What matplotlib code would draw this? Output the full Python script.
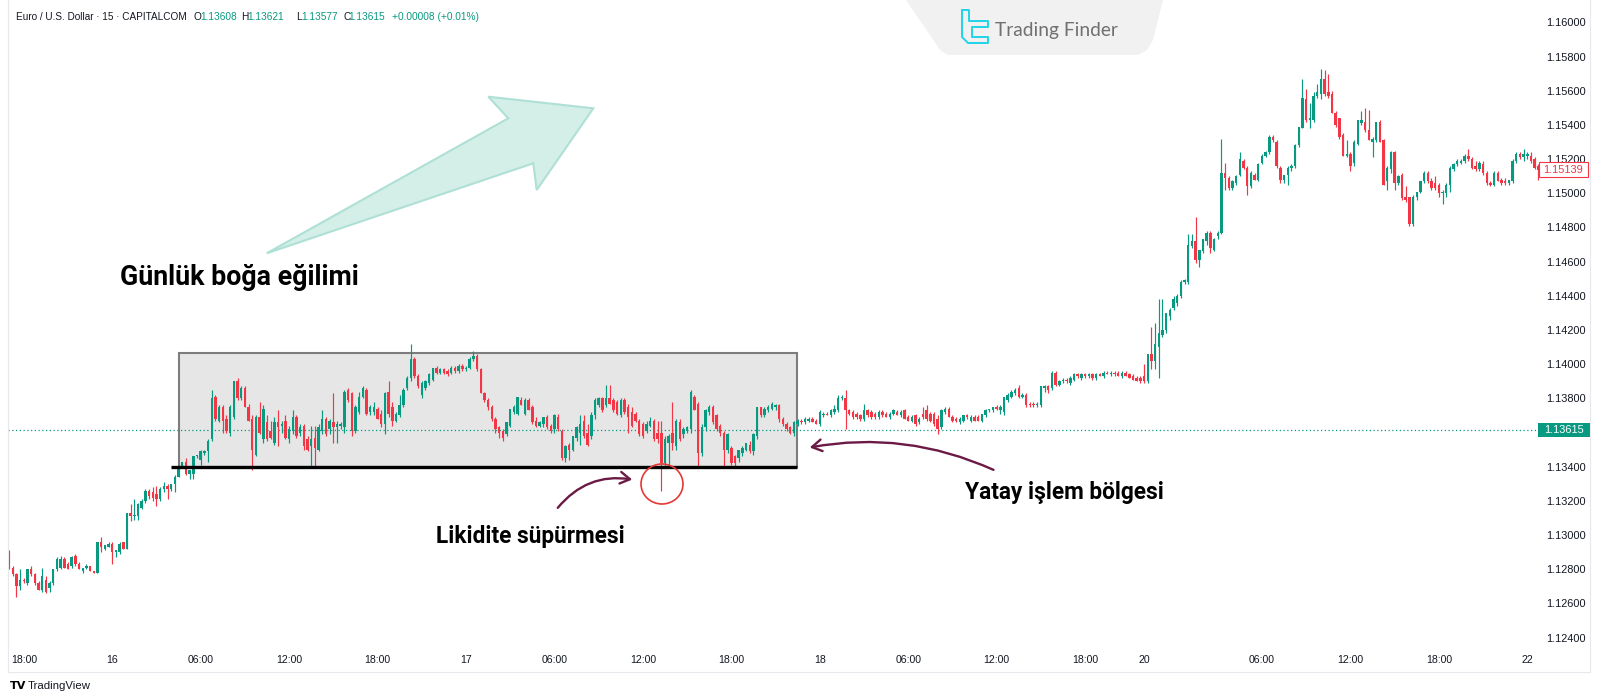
import numpy as np
import matplotlib.pyplot as plt
from matplotlib.patches import Polygon, Rectangle, Ellipse, FancyArrowPatch, ArrowStyle
from matplotlib.transforms import blended_transform_factory
from matplotlib.lines import Line2D

W, H = 1600, 700
BASE = 1.1200
PIP = 0.0001

GREEN = '#089981'
RED = '#f23645'
INK = '#131722'

# 15-minute EUR/USD candles, (open, high, low, close) in pips above BASE
s15 = [
    (88, 91, 80, 82), (81, 82, 76, 77), (77, 78, 64, 70), (70, 80, 68, 74), (74, 75, 72, 73),
    (72, 80, 71, 80), (80, 82, 76, 77), (77, 78, 71, 72), (72, 73, 68, 68), (68, 81, 67, 76),
    (74, 76, 66, 67), (69, 73, 67, 72), (72, 80, 71, 80), (80, 87, 79, 86), (81, 88, 80, 86),
    (86, 87, 81, 81), (83, 84, 80, 80), (82, 88, 81, 87), (88, 89, 82, 83), (83, 84, 80, 80),
    (79, 81, 78, 81), (81, 83, 80, 82), (82, 82, 79, 79), (79, 79, 78, 78), (78, 96, 78, 96),
    (96, 99, 90, 93), (92, 94, 91, 94), (93, 96, 93, 95),
]
s16 = [
    (95, 96, 83, 90), (90, 91, 87, 91), (90, 96, 89, 95), (96, 96, 92, 92), (92, 113, 92, 113),
    (113, 118, 108, 111), (111, 121, 109, 112), (111, 119, 109, 118), (116, 121, 115, 120), (120, 127, 119, 126),
    (126, 127, 121, 123), (125, 128, 120, 122), (124, 129, 117, 121), (121, 128, 120, 127), (127, 131, 125, 129),
    (129, 130, 121, 127), (127, 130, 126, 130), (130, 135, 125, 134), (134, 141, 134, 140), (140, 143, 139, 143),
    (143, 145, 135, 136), (136, 138, 133, 138), (136, 146, 133, 146), (146, 147, 145, 147), (144, 150, 141, 149),
    (148, 150, 147, 149), (149, 156, 143, 155), (156, 185, 155, 180), (181, 182, 167, 168), (167, 176, 166, 175),
    (175, 176, 160, 167), (168, 170, 160, 161), (160, 176, 158, 175), (169, 190, 168, 190), (190, 192, 179, 180),
    (180, 187, 179, 186), (186, 187, 175, 175), (175, 177, 167, 167), (168, 170, 138, 150), (147, 170, 146, 169),
    (169, 178, 159, 160), (156, 176, 154, 174), (166, 170, 155, 156), (161, 167, 156, 157), (154, 169, 153, 166),
    (166, 173, 152, 163), (164, 167, 160, 165), (167, 170, 156, 157), (156, 164, 154, 162), (161, 173, 159, 169),
    (169, 170, 157, 158), (160, 165, 158, 163), (164, 165, 150, 152), (156, 158, 149, 150), (152, 164, 140, 156),
    (157, 164, 140, 151), (150, 165, 149, 163), (161, 173, 159, 168), (168, 169, 158, 159), (162, 168, 159, 167),
    (166, 183, 154, 163), (163, 167, 154, 165), (164, 166, 162, 165), (163, 185, 160, 184), (185, 186, 178, 179),
    (183, 184, 158, 161), (161, 176, 160, 175), (172, 184, 171, 181), (181, 187, 180, 186), (185, 186, 170, 171),
    (172, 176, 170, 175), (172, 178, 170, 175), (174, 175, 168, 168), (171, 173, 163, 165), (165, 184, 159, 183),
    (184, 190, 169, 171), (175, 178, 164, 167), (167, 172, 166, 171), (170, 182, 169, 176), (176, 186, 175, 185),
    (186, 193, 185, 192), (192, 212, 190, 203), (203, 204, 192, 193), (193, 194, 186, 187), (182, 190, 180, 189),
    (186, 191, 185, 190), (189, 195, 188, 194), (191, 198, 190, 198), (198, 199, 194, 195), (195, 198, 194, 197),
    (197, 198, 194, 195), (196, 197, 193, 194), (195, 199, 194, 198), (198, 199, 195, 196), (196, 200, 195, 199),
    (199, 200, 196, 197),
]
s17 = [
    (197, 199, 196, 198), (198, 204, 197, 203), (203, 208, 202, 205), (205, 206, 196, 197), (197, 198, 183, 183),
    (183, 184, 178, 179), (179, 180, 173, 175), (175, 176, 167, 168), (168, 169, 160, 162), (163, 164, 157, 160),
    (161, 162, 155, 157), (159, 166, 158, 166), (164, 174, 163, 174), (172, 176, 171, 175), (171, 181, 170, 181),
    (179, 181, 176, 176), (171, 180, 170, 179), (179, 180, 173, 173), (175, 176, 165, 166), (167, 169, 163, 164),
    (164, 167, 163, 166), (165, 169, 163, 169), (169, 170, 162, 163), (164, 165, 160, 161), (162, 171, 160, 170),
    (169, 171, 161, 162), (161, 162, 144, 145), (145, 153, 143, 152), (153, 154, 144, 150), (150, 158, 149, 158),
    (157, 164, 155, 163), (160, 170, 153, 165), (167, 170, 157, 158), (160, 165, 152, 153), (158, 172, 156, 170),
    (170, 180, 168, 179), (176, 181, 175, 180), (180, 181, 172, 173), (176, 188, 175, 180), (180, 188, 177, 177),
    (179, 180, 172, 173), (178, 179, 170, 171), (170, 180, 169, 179), (179, 180, 171, 172), (175, 177, 160, 169),
    (172, 175, 163, 164), (171, 172, 166, 167), (167, 168, 158, 159), (165, 166, 157, 158), (161, 167, 160, 165),
    (164, 169, 163, 167), (167, 168, 155, 156), (160, 167, 154, 156), (160, 167, 126, 142), (142, 158, 140, 156),
    (154, 159, 140, 158), (160, 178, 150, 154), (152, 168, 150, 167), (166, 168, 155, 156), (159, 163, 157, 162),
    (161, 164, 160, 163), (162, 185, 160, 184), (181, 182, 173, 173), (177, 178, 139, 148), (148, 165, 146, 163),
    (163, 174, 161, 173), (172, 176, 170, 175), (175, 176, 165, 166), (170, 171, 161, 162), (164, 165, 158, 160),
    (160, 161, 140, 150), (150, 160, 148, 159), (151, 152, 141, 142), (146, 147, 140, 142), (145, 150, 143, 150),
    (148, 152, 146, 151), (150, 154, 149, 154), (153, 155, 148, 149), (149, 160, 147, 159), (158, 175, 156, 175),
    (175, 175, 169, 170), (170, 175, 169, 174), (173, 176, 172, 175), (174, 178, 173, 177), (175, 177, 173, 176),
    (176, 177, 166, 168), (168, 169, 164, 165), (165, 166, 161, 162), (163, 164, 159, 160), (160, 167, 158, 166),
    (165, 168, 164, 167), (167, 168, 165, 166), (166, 169, 165, 168), (167, 169, 166, 168), (168, 169, 166, 166),
    (167, 168, 165, 165),
]
s18 = [
    (165, 173, 164, 172), (170, 172, 169, 171), (171, 172, 170, 170), (170, 174, 169, 173), (172, 176, 171, 174),
    (173, 182, 172, 180), (180, 182, 179, 181), (180, 185, 162, 173), (173, 174, 170, 171), (172, 173, 168, 169),
    (171, 172, 168, 169), (170, 171, 167, 168), (168, 177, 167, 173), (173, 174, 169, 170), (172, 173, 168, 169),
    (171, 172, 168, 169), (169, 173, 168, 172), (172, 173, 169, 170), (171, 172, 169, 169), (169, 172, 168, 171),
    (171, 174, 170, 173), (172, 173, 170, 170), (170, 173, 169, 172), (173, 174, 168, 168), (169, 170, 167, 167),
    (167, 170, 166, 169), (170, 171, 164, 165), (166, 169, 165, 168), (171, 175, 168, 169), (173, 176, 167, 168),
    (171, 172, 166, 167), (171, 172, 164, 165), (168, 170, 159, 162), (163, 174, 162, 173), (172, 175, 171, 174),
    (174, 175, 169, 169), (169, 170, 166, 167), (168, 169, 166, 167), (166, 169, 165, 168), (167, 170, 166, 170),
    (170, 171, 168, 169), (167, 170, 166, 169), (169, 170, 167, 167), (169, 170, 167, 167), (167, 171, 166, 171),
    (170, 174, 169, 173), (173, 174, 172, 174), (173, 175, 172, 175), (175, 176, 173, 174), (173, 176, 171, 175),
    (172, 181, 170, 181), (179, 183, 178, 182), (181, 185, 180, 184), (183, 186, 182, 185), (186, 188, 180, 181),
    (181, 183, 180, 182), (182, 183, 175, 176), (177, 178, 175, 176), (177, 178, 175, 176), (176, 178, 175, 177),
    (176, 187, 175, 187), (186, 188, 184, 187), (187, 188, 183, 185), (186, 196, 185, 195), (195, 196, 187, 188),
    (188, 191, 187, 190), (190, 192, 189, 191), (191, 192, 189, 190), (189, 193, 188, 192), (191, 195, 190, 194),
    (194, 195, 192, 193), (192, 195, 191, 194), (194, 195, 192, 193), (193, 195, 192, 194), (194, 195, 191, 192),
    (192, 195, 191, 194), (194, 195, 193, 193), (193, 196, 192, 195), (195, 196, 194, 194), (194, 196, 193, 195),
    (195, 196, 193, 194), (195, 196, 193, 193), (193, 196, 192, 195), (195, 196, 193, 193), (194, 195, 192, 192),
    (193, 194, 191, 191), (192, 193, 190, 190), (192, 193, 189, 190),
]
s20 = [
    (193, 200, 189, 190), (190, 206, 189, 206), (206, 222, 197, 202), (202, 224, 197, 212), (210, 238, 192, 218),
    (217, 238, 216, 220), (220, 230, 218, 230), (228, 233, 226, 232), (233, 240, 232, 238), (236, 241, 234, 240),
    (240, 249, 239, 248), (248, 250, 247, 249), (248, 276, 247, 270), (269, 276, 268, 272), (272, 286, 259, 261),
    (261, 267, 257, 267), (266, 273, 265, 273), (272, 278, 270, 277), (277, 278, 265, 268), (267, 274, 266, 273),
    (275, 278, 273, 277), (277, 332, 276, 312), (312, 318, 302, 309), (309, 310, 302, 303), (303, 308, 302, 307),
    (306, 311, 305, 310), (311, 324, 310, 320), (319, 320, 314, 315), (315, 316, 299, 304), (304, 313, 303, 312),
    (311, 312, 308, 308), (308, 318, 307, 317), (318, 323, 317, 322), (322, 325, 321, 324), (324, 334, 323, 333),
    (333, 334, 330, 331), (330, 331, 315, 316), (315, 316, 306, 308), (308, 311, 306, 311), (311, 316, 305, 315),
    (315, 317, 313, 316), (316, 329, 315, 328), (328, 339, 327, 339), (338, 367, 338, 356), (355, 361, 342, 343),
    (343, 353, 338, 344), (343, 359, 342, 357), (357, 364, 356, 359), (358, 373, 355, 367), (367, 372, 357, 358),
    (359, 370, 356, 357), (358, 360, 347, 347), (347, 348, 339, 340), (344, 344, 332, 333), (334, 335, 322, 322),
    (322, 331, 321, 323), (323, 324, 313, 316), (318, 331, 316, 330), (329, 343, 328, 343), (341, 348, 340, 343),
    (342, 350, 336, 337), (337, 349, 331, 331), (330, 333, 321, 332), (331, 342, 330, 342), (342, 343, 330, 330),
    (331, 332, 305, 305), (307, 316, 302, 315), (314, 325, 312, 324), (324, 325, 302, 306), (306, 311, 305, 310),
    (311, 312, 296, 297), (298, 304, 295, 296), (298, 298, 281, 282), (282, 299, 281, 298), (298, 301, 296, 301),
    (301, 307, 300, 307), (307, 313, 306, 312), (312, 313, 306, 307), (307, 309, 302, 303), (306, 310, 302, 303),
    (305, 306, 298, 300), (300, 302, 294, 301), (300, 306, 298, 305), (305, 316, 301, 315), (314, 318, 313, 317),
    (317, 320, 316, 319), (318, 320, 317, 319), (319, 323, 318, 322), (322, 326, 319, 320), (320, 321, 314, 315),
    (316, 319, 313, 314), (314, 319, 313, 318), (317, 319, 311, 312), (312, 313, 305, 306), (306, 307, 304, 305),
    (305, 313, 304, 312), (312, 313, 307, 307), (308, 309, 305, 306), (307, 309, 305, 306), (306, 308, 305, 308),
    (307, 320, 306, 319), (319, 324, 318, 323), (323, 324, 320, 321), (321, 326, 319, 323), (322, 324, 320, 323),
    (322, 324, 318, 319), (320, 321, 314, 315), (316, 317, 308, 313.9),
]

last_quote = 1.13615                 # quote shown in the legend line
range_top, range_bottom = 1.14066, 1.13398
range_first, range_last = 46.0, 213.7   # bars covered by the range box
support_first = 44.0                  # support line starts a little earlier

time_ticks = [4, 28, 52, 76, 100, 124, 148, 172, 196, 220, 244, 268, 292, 308, 340, 364, 388, 412]
time_labels = ['18:00', '16', '06:00', '12:00', '18:00', '17', '06:00', '12:00', '18:00',
               '18', '06:00', '12:00', '18:00', '20', '06:00', '12:00', '18:00', '22']
price_ticks = [1.124, 1.126, 1.128, 1.130, 1.132, 1.134, 1.138, 1.140, 1.142, 1.144,
               1.146, 1.148, 1.150, 1.152, 1.154, 1.156, 1.158, 1.160]

candles = np.array(s15 + s16 + s17 + s18 + s20, dtype=float)
o, h, l, c = candles.T * PIP + BASE
bars = np.arange(len(candles))


def fx(x):
    return x / W


def fy(y):
    return 1 - y / H


fig = plt.figure(figsize=(16, 7), dpi=100)
fig.patch.set_facecolor('white')
ax = fig.add_axes([fx(8), 55 / H, 1532 / W, 645 / H])
ax.set_xlim(-0.285, 415.45)
ax.set_ylim(1.12357, 1.161311)
for s in ax.spines.values():
    s.set_visible(False)

# range box and support line
ax.add_patch(Rectangle((range_first, range_bottom), range_last - range_first, range_top - range_bottom,
                       facecolor='#e6e6e6', edgecolor='#7d7d7d', lw=1.5, zorder=1))
ax.plot([support_first, range_last], [range_bottom, range_bottom], color='black', lw=2.4,
        solid_capstyle='butt', zorder=4)

# candles
up = c >= o
cols = np.where(up, GREEN, RED)
ax.vlines(bars, l, h, colors=cols, lw=0.85, zorder=3)
body = np.maximum(np.abs(c - o), 0.4 * PIP)
ax.bar(bars, body, bottom=np.minimum(o, c), width=0.66, color=cols, lw=0, zorder=3)

ax.axhline(last_quote, color=GREEN, lw=0.9, ls=(0, (1, 2)), zorder=2)

# axes labels
ax.yaxis.tick_right()
ax.set_yticks(price_ticks)
ax.set_yticklabels([f'{p:.5f}' for p in price_ticks])
ax.tick_params(axis='y', length=0, pad=4.3, labelsize=7.9, labelcolor=INK)
ax.set_xticks(time_ticks)
ax.set_xticklabels(time_labels)
ax.tick_params(axis='x', length=0, pad=7.2, labelsize=7.6, labelcolor=INK)
for t in ax.get_xticklabels() + ax.get_yticklabels():
    t.set_family('Liberation Sans')

# price tags on the scale
tr = blended_transform_factory(fig.transFigure, ax.transData)
tag_h = 7.2 / 17090
ax.add_patch(Rectangle((fx(1538), last_quote - tag_h), fx(52), 2 * tag_h, transform=tr,
                       facecolor=GREEN, edgecolor='none', clip_on=False, zorder=5))
ax.text(fx(1564), last_quote, f'{last_quote:.5f}', transform=tr, ha='center', va='center',
        color='white', fontsize=7.9, family='Liberation Sans', zorder=6, clip_on=False)
close_last = c[-1]
ax.add_patch(Rectangle((fx(1538.5), close_last - tag_h), fx(49), 2 * tag_h, transform=tr,
                       facecolor='white', edgecolor=RED, lw=0.8, clip_on=False, zorder=5))
ax.text(fx(1563), close_last, f'{close_last:.5f}', transform=tr, ha='center', va='center',
        color=RED, fontsize=7.9, family='Liberation Sans', zorder=6, clip_on=False)

# chart frame
frame = '#e6e8ee'
fig.add_artist(Line2D([fx(8), fx(8)], [fy(0), fy(672)], color=frame, lw=0.8))
fig.add_artist(Line2D([fx(1590), fx(1590)], [fy(0), fy(672)], color=frame, lw=0.8))
fig.add_artist(Line2D([fx(8), fx(1590)], [fy(672), fy(672)], color=frame, lw=0.8))

# legend line at the top
hdr = dict(fontsize=7.3, va='baseline', ha='left', family=['Liberation Sans Narrow', 'Liberation Sans'])
fig.text(fx(16.5), fy(19.5), 'Euro / U.S. Dollar · 15 · CAPITALCOM', color=INK,
         fontsize=7.2, va='baseline', ha='left', family=['Liberation Sans Narrow', 'Liberation Sans'])
for x_lab, x_val, lab, val in [(193, 200, 'O', '1.13608'), (241, 247.5, 'H', '1.13621'),
                               (296, 301.5, 'L', '1.13577'), (343, 348.5, 'C', '1.13615')]:
    fig.text(fx(x_lab), fy(19.5), lab, color=INK, **hdr)
    fig.text(fx(x_val), fy(19.5), val, color=GREEN, **hdr)
fig.text(fx(392), fy(19.5), '+0.00008 (+0.01%)', color=GREEN, **hdr)

# Trading Finder tab
fig.add_artist(Polygon([(fx(906), fy(0)), (fx(1163), fy(0)), (fx(1153), fy(40)), (fx(1147), fy(50)),
                        (fx(1138), fy(55)), (fx(948), fy(55)), (fx(940), fy(50)), (fx(934), fy(41))],
                       closed=True, facecolor='#f1f1f1', edgecolor='none', transform=fig.transFigure))
logo = [(962, 10), (969, 10), (969, 21), (988, 21), (988, 27), (972, 27), (972, 37),
        (988, 37), (988, 43), (968, 43), (962, 37), (962, 10)]
fig.add_artist(Line2D([fx(x) for x, _ in logo], [fy(y) for _, y in logo], color='#1fd5ea', lw=1.4))
fig.text(fx(995), fy(30.7), 'Trading Finder', color='#707070', fontsize=13.8, family='Lato',
         ha='left', va='center')

# TradingView mark
fig.text(fx(10), fy(686), 'TV', color='black', fontsize=8, weight='bold', ha='left', va='center')
fig.text(fx(28), fy(686), 'TradingView', color=INK, fontsize=8.2, family='Liberation Sans',
         ha='left', va='center')

# daily bias arrow
arrow_pts = [(266.7, 253.3), (508.3, 118.3), (488.3, 96.7), (593.3, 108.3),
             (536.7, 190.0), (533.3, 163.3)]
fig.add_artist(Polygon([(fx(x), fy(y)) for x, y in arrow_pts], closed=True, facecolor='#d4eee8',
                       edgecolor='#aee0d5', lw=1.5, transform=fig.transFigure, joinstyle='miter'))

note = dict(color='black', weight='bold', family='Roboto', ha='left', va='baseline')
fig.text(fx(120.5), fy(285), 'Günlük boğa eğilimi', fontsize=19.3, **note)
fig.text(fx(436), fy(543), 'Likidite süpürmesi', fontsize=16.3, **note)
fig.text(fx(965), fy(499), 'Yatay işlem bölgesi', fontsize=16.3, **note)

# liquidity sweep marker
fig.add_artist(Ellipse((fx(662), fy(484)), fx(42), 40 / H, facecolor='none', edgecolor='#e53935',
                       lw=1.2, transform=fig.transFigure))

maroon = '#6b1a45'
head = ArrowStyle('->', head_length=7, head_width=4.2)
fig.add_artist(FancyArrowPatch((fx(556), fy(510)), (fx(635), fy(480)), transform=fig.transFigure,
                               connectionstyle='arc3,rad=-0.3', arrowstyle=head, color=maroon,
                               lw=1.7, mutation_scale=1))
fig.add_artist(FancyArrowPatch((fx(996), fy(471)), (fx(807), fy(448)), transform=fig.transFigure,
                               connectionstyle='arc3,rad=0.16', arrowstyle=head, color=maroon,
                               lw=1.7, mutation_scale=1))

fig.savefig('out.png', dpi=100, facecolor='white')
